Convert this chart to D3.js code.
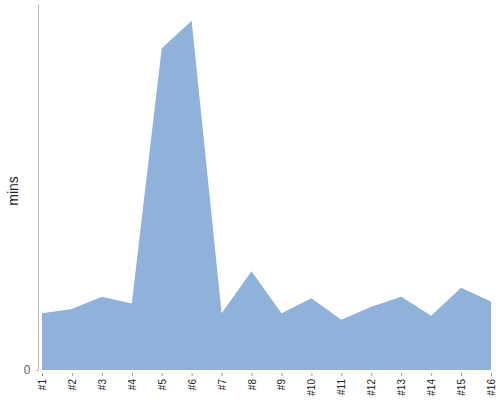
<!DOCTYPE html>
<html><head><meta charset="utf-8">
<script src="https://cdn.jsdelivr.net/npm/d3@7"></script>
<style>body{margin:0;background:#fff}svg{display:block}text{font-family:"Liberation Sans",Arial,sans-serif}</style>
</head><body><svg id="c" width="500" height="400"></svg>
<script>
const categories = ["#1","#2","#3","#4","#5","#6","#7","#8","#9","#10","#11","#12","#13","#14","#15","#16"];
const values = [15.5,16.7,20,18.2,87.9,95.4,15.5,27,15.5,19.6,13.7,17.3,20,14.8,22.5,18.7];
const yTicks = [0];
const yLabel = "mins";

const svg = d3.select("#c");
const m = {left:42, right:9, top:4, bottom:30};
const W = 500, H = 400;
const x = d3.scalePoint().domain(categories).range([m.left, W - m.right]);
const y = d3.scaleLinear().domain([0, 100]).range([H - m.bottom, m.top]);

const area = d3.area().x((d,i)=>x(categories[i])).y0(y(0)).y1(d=>y(d));
svg.append("path").datum(values).attr("d", area).attr("fill", "#8fb1da");

// y axis
const ya = svg.append("g").attr("transform", `translate(${m.left-3.5},0)`)
  .call(d3.axisLeft(y).tickValues(yTicks).tickSize(3).tickPadding(5));
ya.select(".domain").attr("stroke", "#bbb").attr("d", `M0,${y(100)}V${y(0)}`);
ya.selectAll(".tick line").attr("stroke", "#bbb");
ya.selectAll(".tick text").attr("fill", "#666").attr("font-size", 12);

// x axis
const xa = svg.append("g").attr("transform", `translate(0,${H - m.bottom + 3})`)
  .call(d3.axisBottom(x).tickSize(3).tickPadding(4));
xa.select(".domain").remove();
xa.selectAll(".tick line").attr("stroke", "#999");
xa.selectAll(".tick text").attr("fill", "#222").attr("font-size", 10)
  .attr("text-anchor", "end").attr("transform", "rotate(-90)")
  .attr("x", -6).attr("y", 0).attr("dy", "0.35em");

svg.append("text").attr("transform", `translate(18,${(y(0)+y(100))/2 + 4}) rotate(-90)`)
  .attr("text-anchor", "middle").attr("font-size", 14).attr("fill", "#222").text(yLabel);
</script></body></html>
